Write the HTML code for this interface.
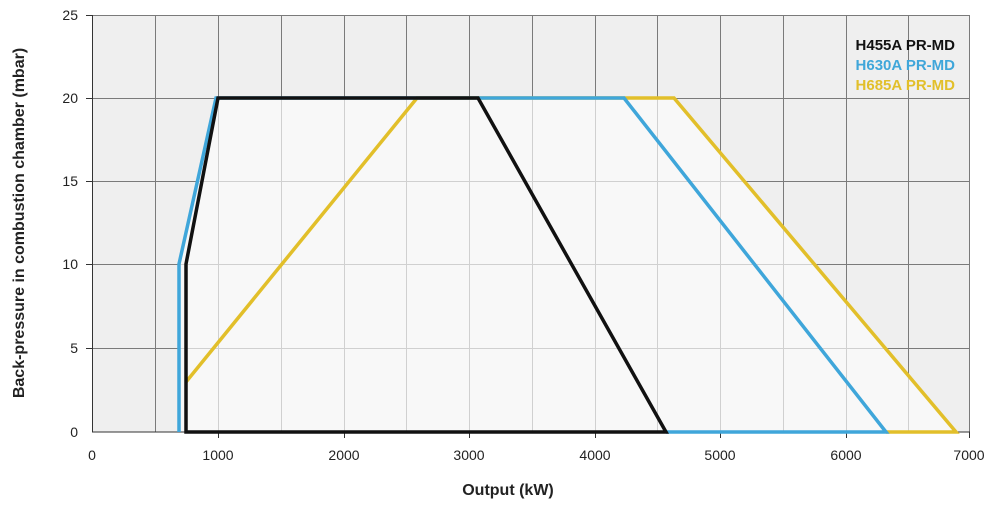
<!DOCTYPE html>
<html><head><style>body{margin:0;background:#fff}svg{display:block}text{font-family:"Liberation Sans",sans-serif}</style></head><body>
<svg width="1000" height="505" viewBox="0 0 1000 505">
<defs><clipPath id="c"><polygon points="179,432 179,264 216,98 674,98 956,432"/></clipPath></defs>
<rect x="92" y="15" width="878" height="417" fill="#efefef"/>
<g stroke="#7a7a7a" stroke-width="1">
<line x1="92" y1="15.5" x2="970" y2="15.5"/><line x1="92" y1="98.5" x2="970" y2="98.5"/><line x1="92" y1="181.5" x2="970" y2="181.5"/><line x1="92" y1="264.5" x2="970" y2="264.5"/><line x1="92" y1="348.5" x2="970" y2="348.5"/>
<line x1="155.5" y1="15" x2="155.5" y2="432"/><line x1="218.5" y1="15" x2="218.5" y2="432"/><line x1="281.5" y1="15" x2="281.5" y2="432"/><line x1="344.5" y1="15" x2="344.5" y2="432"/><line x1="406.5" y1="15" x2="406.5" y2="432"/><line x1="469.5" y1="15" x2="469.5" y2="432"/><line x1="532.5" y1="15" x2="532.5" y2="432"/><line x1="595.5" y1="15" x2="595.5" y2="432"/><line x1="657.5" y1="15" x2="657.5" y2="432"/><line x1="720.5" y1="15" x2="720.5" y2="432"/><line x1="783.5" y1="15" x2="783.5" y2="432"/><line x1="846.5" y1="15" x2="846.5" y2="432"/><line x1="908.5" y1="15" x2="908.5" y2="432"/><line x1="969.5" y1="15" x2="969.5" y2="432"/>
</g>
<g clip-path="url(#c)">
<rect x="92" y="15" width="878" height="417" fill="#f8f8f8"/>
<g stroke="#d0d0d0" stroke-width="1">
<line x1="92" y1="181.5" x2="970" y2="181.5"/><line x1="92" y1="264.5" x2="970" y2="264.5"/><line x1="92" y1="348.5" x2="970" y2="348.5"/>
<line x1="218.5" y1="15" x2="218.5" y2="432"/><line x1="281.5" y1="15" x2="281.5" y2="432"/><line x1="344.5" y1="15" x2="344.5" y2="432"/><line x1="406.5" y1="15" x2="406.5" y2="432"/><line x1="469.5" y1="15" x2="469.5" y2="432"/><line x1="532.5" y1="15" x2="532.5" y2="432"/><line x1="595.5" y1="15" x2="595.5" y2="432"/><line x1="657.5" y1="15" x2="657.5" y2="432"/><line x1="720.5" y1="15" x2="720.5" y2="432"/><line x1="783.5" y1="15" x2="783.5" y2="432"/><line x1="846.5" y1="15" x2="846.5" y2="432"/><line x1="908.5" y1="15" x2="908.5" y2="432"/>
</g></g>
<line x1="92.5" y1="15" x2="92.5" y2="432" stroke="#333"/>
<line x1="92" y1="432" x2="970" y2="432" stroke="#333"/>
<g stroke="#333"><line x1="218.5" y1="432" x2="218.5" y2="438"/><line x1="344.5" y1="432" x2="344.5" y2="438"/><line x1="469.5" y1="432" x2="469.5" y2="438"/><line x1="595.5" y1="432" x2="595.5" y2="438"/><line x1="720.5" y1="432" x2="720.5" y2="438"/><line x1="846.5" y1="432" x2="846.5" y2="438"/><line x1="969.5" y1="432" x2="969.5" y2="438"/>
<line x1="86" y1="15.5" x2="92" y2="15.5"/><line x1="86" y1="98.5" x2="92" y2="98.5"/><line x1="86" y1="181.5" x2="92" y2="181.5"/><line x1="86" y1="264.5" x2="92" y2="264.5"/><line x1="86" y1="348.5" x2="92" y2="348.5"/></g>
<g fill="none" stroke-width="3.5" stroke-linejoin="miter">
<polyline points="186,382 417,98 674,98 956,432 886,432" stroke="#e2bf2a"/>
<polyline points="179,432 179,264 216,98 624,98 886,432 666,432" stroke="#3fa6da"/>
<polygon points="186,432 186,264 218,98 478,98 666,432" stroke="#111"/>
</g>
<g font-size="14" fill="#222" text-anchor="middle">
<text x="92" y="460">0</text><text x="218" y="460">1000</text><text x="344" y="460">2000</text><text x="469" y="460">3000</text><text x="595" y="460">4000</text><text x="720" y="460">5000</text><text x="846" y="460">6000</text><text x="969" y="460">7000</text>
</g>
<g font-size="14" fill="#222" text-anchor="end">
<text x="78" y="20">25</text><text x="78" y="103">20</text><text x="78" y="186">15</text><text x="78" y="269">10</text><text x="78" y="353">5</text><text x="78" y="437">0</text>
</g>
<text x="508" y="495" font-size="16" font-weight="bold" text-anchor="middle" fill="#222">Output (kW)</text>
<text transform="translate(24,223) rotate(-90)" font-size="16" font-weight="bold" text-anchor="middle" fill="#222">Back-pressure in combustion chamber (mbar)</text>
<g font-size="15" font-weight="bold" text-anchor="end">
<text x="955" y="50" fill="#111">H455A PR-MD</text>
<text x="955" y="70" fill="#3fa6da">H630A PR-MD</text>
<text x="955" y="90" fill="#e2bf2a">H685A PR-MD</text>
</g>
</svg>
</body></html>
